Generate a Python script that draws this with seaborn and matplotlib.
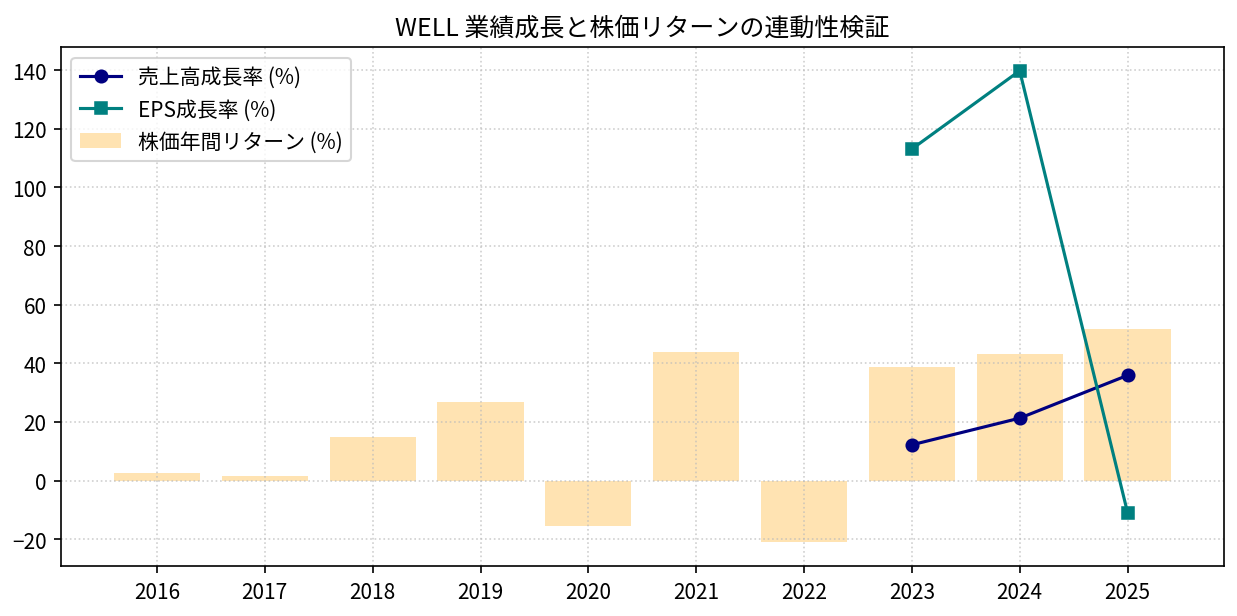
import matplotlib
matplotlib.use("Agg")
import matplotlib.pyplot as plt
import seaborn as sns

plt.rcParams['font.family'] = ['Noto Sans CJK JP', 'DejaVu Sans']

years = ['2016', '2017', '2018', '2019', '2020', '2021', '2022', '2023', '2024', '2025']
stock_return = [2.7, 1.4, 15.0, 26.8, -15.6, 43.8, -21.1, 38.7, 43.2, 51.6]

growth_years = ['2023', '2024', '2025']
revenue_growth = [12.2, 21.3, 35.9]
eps_growth = [113.1, 139.8, -10.9]

fig, ax = plt.subplots(figsize=(8.25, 4.113), dpi=150)
fig.subplots_adjust(left=0.0493, right=0.9887, top=0.922, bottom=0.081)

# categorical positions of the growth years on the bar axis
pos = [years.index(y) for y in growth_years]

sns.lineplot(x=pos, y=revenue_growth, color='navy', marker='o', markersize=6,
             markeredgecolor='navy', linewidth=1.5, label='売上高成長率 (%)', ax=ax)
sns.lineplot(x=pos, y=eps_growth, color='teal', marker='s', markersize=6,
             markeredgecolor='teal', linewidth=1.5, label='EPS成長率 (%)', ax=ax)
sns.barplot(x=years, y=stock_return, color='orange', alpha=0.3, width=0.8,
            saturation=1, label='株価年間リターン (%)', ax=ax, zorder=0)

ax.set_xlim(-0.89, len(years) - 1 + 0.89)
ax.set_title('WELL 業績成長と株価リターンの連動性検証', fontsize=12)
ax.set_xlabel('')
ax.set_ylabel('')
ax.grid(True, linestyle=':', color='#bbbbbb', alpha=0.7)
ax.set_axisbelow(True)

ax.legend(loc='upper left', fontsize=10)
fig.savefig('out.png', dpi=150)
